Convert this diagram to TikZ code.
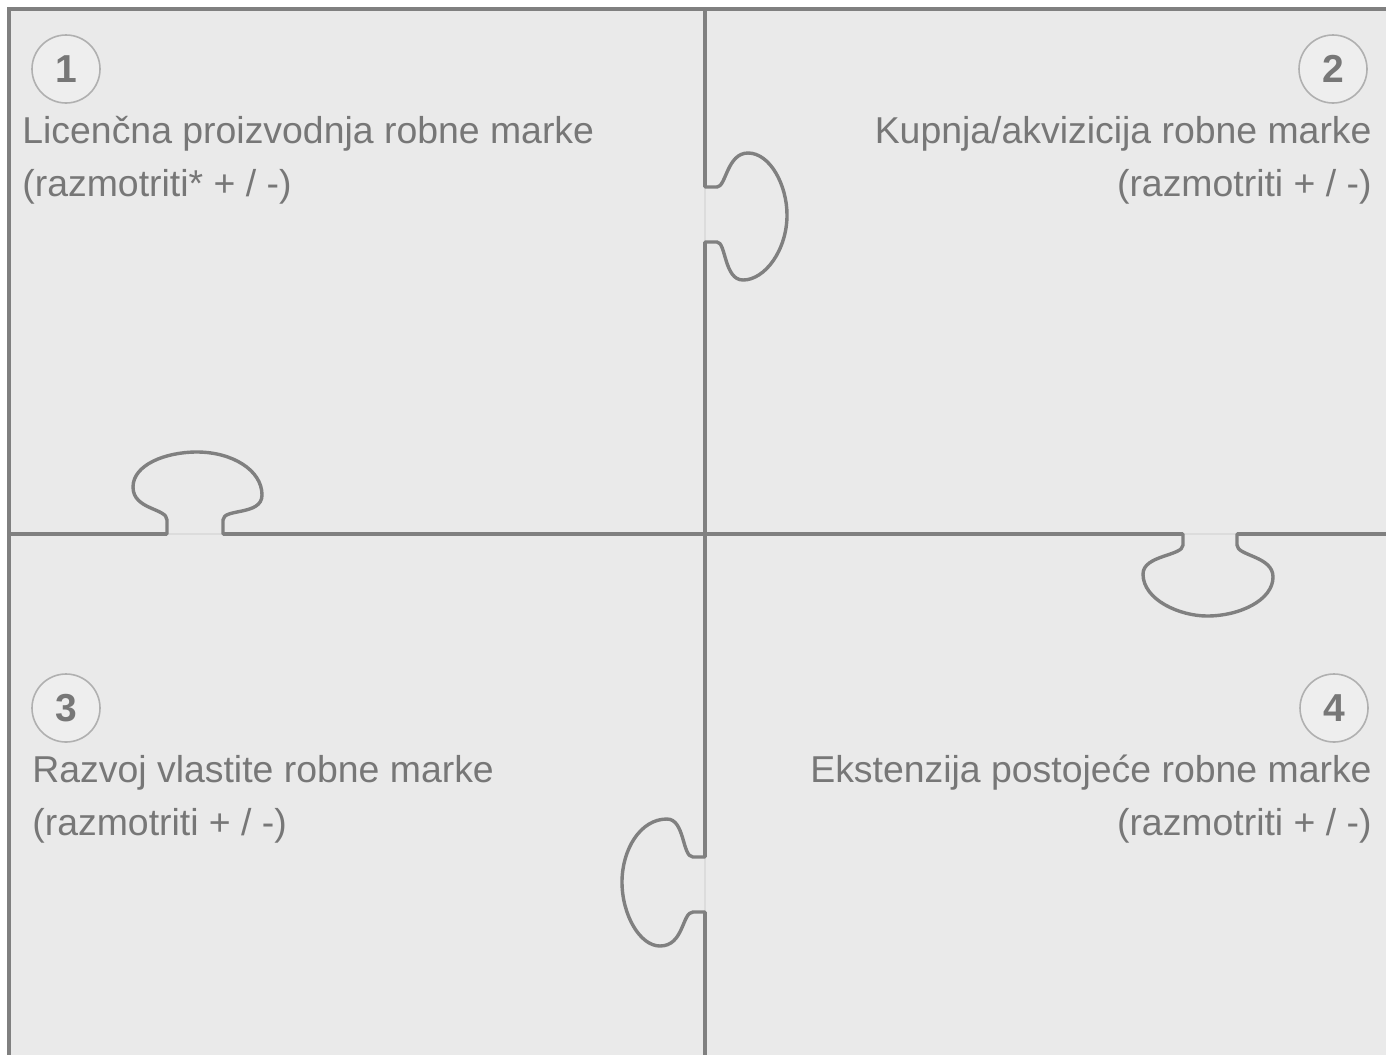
\documentclass[tikz,border=0pt]{standalone}
\usepackage{fontspec}
\setmainfont{Liberation Sans}
\usetikzlibrary{positioning}
\definecolor{grisLinea}{HTML}{808080}
\definecolor{grisFondo}{HTML}{EAEAEA}
\definecolor{grisClaro}{HTML}{EEEEEE}
\definecolor{grisTexto}{HTML}{777777}
\definecolor{grisCirculo}{HTML}{B0B0B0}
\definecolor{grisJunta}{HTML}{DCDCDC}

\begin{document}
\begin{tikzpicture}[x=0.5pt, y=-0.5pt,
        borde/.style={draw=grisLinea, line width=2pt},
        pieza/.style={draw=grisLinea, line width=1.7pt, line join=round},
        junta/.style={draw=grisJunta, line width=0.6pt},
        num/.style={circle, draw=grisCirculo, fill=grisClaro, line width=0.8pt,
            minimum size=34pt, inner sep=0pt, text=grisTexto,
            font=\fontsize{19.5}{19.5}\selectfont\bfseries},
        txt/.style={inner sep=0pt, text=grisTexto, font=\fontsize{18.7}{22}\selectfont}]
    \useasboundingbox (0,0) rectangle (1386,1055);
    \fill[grisFondo] (9,9) rectangle (1386,1055);
    % juntas de las piezas
    \draw[junta] (705,187) -- (705,242);
    \draw[junta] (705,857) -- (705,912);
    \draw[junta] (167,534) -- (223,534);
    \draw[junta] (1183,534) -- (1237,534);
    % bordes
    \draw[borde] (1386,9) -- (9,9) -- (9,1055);
    \draw[borde] (705,9) -- (705,187);
    \draw[borde] (705,242) -- (705,857);
    \draw[borde] (705,912) -- (705,1055);
    \draw[borde] (9,534) -- (167,534);
    \draw[borde] (223,534) -- (1183,534);
    \draw[borde] (1237,534) -- (1386,534);
    % pestanas
    \draw[pieza] (705,182) -- (705,187) -- (717,187)
        .. controls (726,187) and (727,153) .. (748,153)
        .. controls (770,153) and (787,185) .. (787,215)
        .. controls (787,250) and (765,280) .. (743,280)
        .. controls (724,280) and (726,242) .. (717,242) -- (705,242) -- (705,247);
    \draw[pieza] (162,534) -- (167,534) -- (167,520)
        .. controls (167,508) and (133,510) .. (133,487)
        .. controls (133,465) and (165,452) .. (197,452)
        .. controls (232,452) and (262,470) .. (262,495)
        .. controls (262,516) and (223,508) .. (223,520) -- (223,534) -- (228,534);
    \draw[pieza] (1178,534) -- (1183,534) -- (1183,545)
        .. controls (1183,556) and (1143,555) .. (1143,574)
        .. controls (1143,600) and (1180,616) .. (1207,616)
        .. controls (1240,616) and (1273,600) .. (1273,577)
        .. controls (1273,556) and (1237,556) .. (1237,545) -- (1237,534) -- (1242,534);
    \draw[pieza] (705,852) -- (705,857) -- (693,857)
        .. controls (682,857) and (685,819) .. (667,819)
        .. controls (640,819) and (622,850) .. (622,882)
        .. controls (622,915) and (640,946) .. (660,946)
        .. controls (684,946) and (682,912) .. (693,912) -- (705,912) -- (705,917);
    % numeros
    \node[num] (n1) at (66,69) {1};
    \node[num] (n2) at (1333,69) {2};
    \node[num] (n3) at (66,708) {3};
    \node[num] (n4) at (1334,708) {4};
    % textos
    \node[txt, anchor=base west] (t1) at (22,143) {Licenčna proizvodnja robne marke};
    \node[txt, anchor=base west] (t1b) at (22,196) {(razmotriti* + / -)};
    \node[txt, anchor=base east] (t2) at (1372,143) {Kupnja/akvizicija robne marke};
    \node[txt, anchor=base east] (t2b) at (1372,196) {(razmotriti + / -)};
    \node[txt, anchor=base west] (t3) at (32,782) {Razvoj vlastite robne marke};
    \node[txt, anchor=base west] (t3b) at (32,835) {(razmotriti + / -)};
    \node[txt, anchor=base east] (t4) at (1372,782) {Ekstenzija postojeće robne marke};
    \node[txt, anchor=base east] (t4b) at (1372,835) {(razmotriti + / -)};
\end{tikzpicture}
\end{document}
